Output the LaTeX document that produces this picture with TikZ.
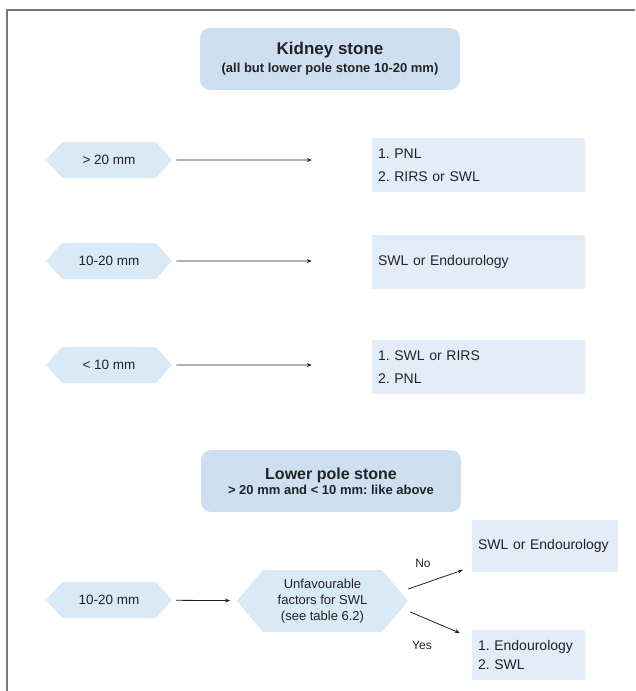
\documentclass[tikz,border=0pt]{standalone}
\usepackage{fontspec}
\setmainfont{Liberation Sans}
\usetikzlibrary{shapes.symbols,arrows.meta}

\definecolor{titleblue}{RGB}{206,224,239}
\definecolor{boxblue}{RGB}{226,237,248}
\definecolor{hexblue}{RGB}{218,233,246}
\definecolor{inkgray}{RGB}{34,34,40}
\definecolor{framegray}{RGB}{120,120,120}

\frenchspacing

\begin{document}
\begin{tikzpicture}[x=1pt, y=-1pt, >={Stealth[length=5pt,width=4pt]},
    title/.style={fill=titleblue, rounded corners=10pt, minimum width=260pt,
      minimum height=62pt, align=center, inner sep=0pt, text=inkgray},
    size/.style={shape=signal, signal to=east and west, signal pointer angle=96,
      fill=hexblue, minimum width=126pt, minimum height=36pt, inner sep=0pt,
      text=inkgray, font=\fontsize{13.5}{15}\selectfont},
    choice/.style={rectangle, fill=boxblue, minimum height=54pt, text width=201pt,
      inner xsep=6pt, align=left, text=inkgray, font=\fontsize{14}{23}\selectfont},
    arr/.style={->, draw=inkgray, line width=0.8pt},
    pageborder/.style={draw=framegray, line width=1.5pt}]

    \useasboundingbox (0,0) rectangle (635,691);

    % Frame
    \draw[pageborder] (7,691) -- (7,10) -- (635,10);

    % Kidney stone
    \node[title] (kidney) at (330,59)
      {{\bfseries\fontsize{17}{20}\selectfont Kidney stone}\\[4pt]
       {\bfseries\fontsize{13}{15}\selectfont (all but lower pole stone 10-20 mm)}};

    % Sizes
    \node[size] (big) at (109,160) {> 20 mm};
    \node[size] (mid) at (109,261) {10-20 mm};
    \node[size] (small) at (109,365) {< 10 mm};

    % Treatments
    \node[choice] (bigtx) at (478.5,165) {1. PNL\\2. RIRS or SWL};
    \node[choice] (midtx) at (478.5,262) {SWL or Endourology};
    \node[choice] (smalltx) at (478.5,367) {1. SWL or RIRS\\2. PNL};

    % Arrows
    \draw[arr, shorten <=4pt] (big) -- ([xshift=-60pt]bigtx.west |- big);
    \draw[arr, shorten <=4pt] (mid) -- ([xshift=-60pt]midtx.west |- mid);
    \draw[arr, shorten <=4pt] (small) -- ([xshift=-60pt]smalltx.west |- small);

    % Lower pole stone
    \node[title] (lower) at (331,481)
      {{\bfseries\fontsize{16}{19}\selectfont Lower pole stone}\\[1pt]
       {\bfseries\fontsize{13}{15}\selectfont > 20 mm and < 10 mm: like above}};

    \node[size] (pole) at (109,600) {10-20 mm};
    \node[size, signal pointer angle=100, minimum width=171pt, minimum height=62pt,
      align=center, font=\fontsize{13}{16}\selectfont] (factor) at (322.5,601)
      {Unfavourable\\factors for SWL\\(see table 6.2)};
    \node[choice, text width=134pt, font=\fontsize{14}{17}\selectfont, minimum height=52pt]
      (notx) at (545,546) {SWL or Endourology};
    \node[choice, text width=101pt, font=\fontsize{14}{19}\selectfont, minimum height=50pt]
      (yestx) at (528.5,655) {1. Endourology\\2. SWL};

    \draw[arr, shorten <=4pt, shorten >=7pt] (pole) -- (factor);
    \draw[arr] ([shift={(0,-12)}]factor.east) -- ([shift={(-9,24)}]notx.west);
    \draw[arr] ([shift={(2,11)}]factor.east) -- ([shift={(-12,-22)}]yestx.west);

    % Yes / No
    \node[text=inkgray, font=\fontsize{12}{14}\selectfont] (nolbl) at (423,563) {No};
    \node[text=inkgray, font=\fontsize{12}{14}\selectfont] (yeslbl) at (422,645) {Yes};

\end{tikzpicture}
\end{document}
